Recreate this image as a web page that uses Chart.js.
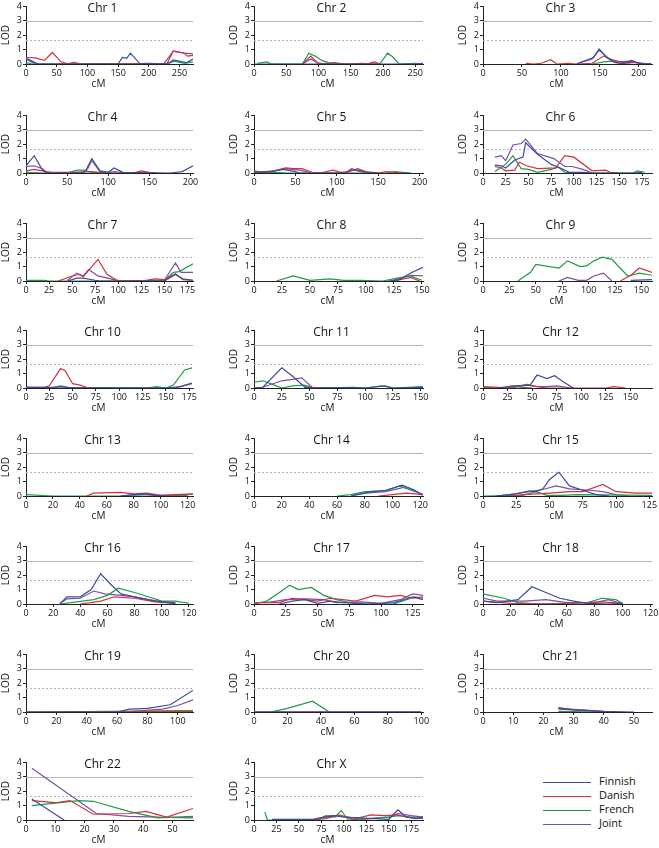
<!DOCTYPE html>
<html>
<head>
<meta charset="utf-8">
<script src="https://cdn.jsdelivr.net/npm/chart.js@4.4.0/dist/chart.umd.min.js"></script>
<style>
html, body { margin: 0; padding: 0; overflow: hidden; }
body { width: 659px; height: 848px; position: relative; background: #fff; font-family: "Open Sans", sans-serif; }
canvas { position: absolute; }
.leg { position: absolute; left: 543px; font-size: 11px; color: #111; height: 14px; line-height: 14px; }
.leg span { display: inline-block; width: 48px; border-top: 1.5px solid; vertical-align: middle; margin-right: 8px; }
</style>
</head>
<body>
<div class="leg" style="top:774px"><span style="border-color:#3b4ba3"></span>Finnish</div>
<div class="leg" style="top:788px"><span style="border-color:#d2323c"></span>Danish</div>
<div class="leg" style="top:802px"><span style="border-color:#1f9a4a"></span>French</div>
<div class="leg" style="top:816px"><span style="border-color:#7a4ea3"></span>Joint</div>
<script>
// chromosome names, axis end and tick step
const chromosomes = ['Chr 1','Chr 2','Chr 3','Chr 4','Chr 5','Chr 6','Chr 7','Chr 8','Chr 9','Chr 10','Chr 11','Chr 12',
  'Chr 13','Chr 14','Chr 15','Chr 16','Chr 17','Chr 18','Chr 19','Chr 20','Chr 21','Chr 22','Chr X'];
const xMax = [272,262,217,203,204,186,181,151,160,179,152,172,124,122,127,123,133,121,110,101,56,57,188];
const xStep = [50,50,50,50,50,25,25,25,25,25,25,25,20,20,25,20,25,20,20,20,10,10,25];
const yTicks = [0,1,2,3,4];
const solidLine = 3;
const dashLine = 1.7;
const seriesNames = ['Finnish','Danish','French','Joint'];
const seriesColors = ['#3b4ba3','#d2323c','#1f9a4a','#7a4ea3'];

// [cM, LOD] points per chromosome
const finnish = [
  [[0,0.4],[10,0.2],[20,0],[150,0],[157,0.45],[164,0.4],[170,0.75],[185,0.05],[230,0],[240,0.28],[255,0.15],[262,0.1],[272,0.35]],
  [[0,0],[250,0],[262,0.05]],
  [[120,0],[127,0.15],[135,0.3],[142,0.45],[149,1.05],[160,0.4],[170,0.1],[180,0.05],[191,0.25],[200,0.05],[216,0]],
  [[0,0.5],[10,1.2],[20,0.2],[25,0],[65,0],[72,0.1],[80,1.0],[90,0.15],[100,0.05],[107,0.35],[118,0.05],[175,0],[190,0.1],[203,0.5]],
  [[0,0.05],[20,0.1],[35,0.25],[50,0.1],[55,0],[110,0],[118,0.3],[125,0.15],[135,0.05],[150,0]],
  [[13,0.55],[20,0.5],[25,0.35],[35,0.9],[44,1.1],[47,2.1],[60,1.3],[75,0.6],[85,0.35],[95,0.05],[110,0.05],[120,0],[165,0],[175,0.05]],
  [[45,0],[55,0.2],[62,0.2],[75,0.05],[80,0],[150,0],[162,0.45],[170,0.15],[181,0.05]],
  [[120,0],[130,0.1],[140,0.55],[151,0.95]],
  [[140,0.05],[160,0.1]],
  [[0,0.05],[30,0.05],[37,0.1],[50,0],[150,0],[165,0.1],[178,0.35]],
  [[0,0],[8,0.05],[25,1.4],[35,0.8],[45,0.1],[50,0],[90,0.05],[100,0],[118,0.15],[125,0],[152,0.05]],
  [[15,0],[30,0.15],[40,0.15],[48,0.2],[55,0.9],[65,0.65],[73,0.85],[80,0.5],[92,0]],
  [[70,0],[80,0.1],[88,0.15],[95,0.05],[105,0]],
  [[70,0],[75,0.1],[85,0.3],[95,0.4],[107,0.75],[115,0.45],[122,0.05]],
  [[10,0],[25,0.15],[35,0.35],[40,0.3],[45,0.5],[50,1.15],[57,1.65],[65,0.7],[75,0.4],[85,0.1],[95,0]],
  [[25,0],[30,0.5],[40,0.5],[48,1.0],[55,2.1],[63,1.3],[70,0.7],[80,0.5],[90,0.3],[100,0.15],[110,0.05]],
  [[20,0],[30,0.2],[40,0.3],[50,0.05],[60,0.2],[70,0.1],[90,0],[110,0.1],[125,0.5],[133,0.3]],
  [[0,0.2],[10,0.1],[25,0.3],[35,1.2],[45,0.8],[55,0.4],[65,0.2],[75,0.05],[90,0],[100,0.05]],
  [[0,0],[60,0],[68,0.2],[80,0.25],[95,0.5],[110,1.5]],
  [[0,0],[100,0]],
  [[25,0.3],[30,0.15],[40,0.05],[50,0]],
  [[2,1.45],[13,0]],
  [[20,0.05],[65,0.05],[90,0.3],[100,0.2],[150,0.05],[160,0.7],[170,0.2],[180,0.1],[188,0.2]]
];
const danish = [
  [[0,0.45],[15,0.42],[30,0.25],[43,0.8],[57,0.15],[68,0.02],[78,0.12],[90,0],[180,0],[195,0.05],[215,0.03],[230,0.05],[240,0.9],[258,0.75],[263,0.55],[272,0.6]],
  [[75,0],[88,0.55],[100,0],[118,0.05],[125,0.1],[135,0],[178,0.05],[187,0.15],[195,0]],
  [[55,0.05],[65,0],[75,0.05],[87,0.3],[95,0],[110,0.05],[120,0],[140,0.05],[155,0.55],[165,0.3],[180,0.1],[200,0.1],[210,0],[216,0.05]],
  [[0,0.15],[10,0.25],[25,0.1],[35,0],[60,0.05],[80,0.1],[95,0],[130,0],[140,0.15],[150,0.05],[160,0]],
  [[0,0.05],[25,0.15],[38,0.35],[48,0.3],[58,0.3],[70,0.05],[80,0],[95,0.2],[105,0.05],[115,0.1],[125,0.3],[135,0.1],[150,0],[160,0.1],[170,0.05],[180,0]],
  [[13,0.45],[20,0.35],[25,0.15],[35,0.2],[40,0.75],[48,0.5],[60,0.3],[80,0.35],[90,1.2],[100,1.1],[120,0.15],[135,0.2],[140,0.05],[150,0]],
  [[35,0],[50,0.35],[58,0.45],[62,0.3],[78,1.5],[88,0.45],[100,0],[130,0.05],[140,0.15],[150,0.1],[162,0.5],[170,0.1],[181,0.05]],
  [[125,0],[140,0.25],[148,0]],
  [[130,0],[140,0.4],[148,0.9],[160,0.6]],
  [[0,0.05],[20,0.05],[25,0.15],[37,1.35],[42,1.2],[50,0.3],[58,0.2],[65,0.05],[75,0]],
  [[45,0.05],[52,0.05],[62,0]],
  [[0,0.1],[15,0.05],[25,0],[45,0.25],[55,0.1],[65,0],[125,0],[133,0.1],[145,0]],
  [[45,0],[50,0.2],[70,0.25],[80,0.15],[90,0.2],[100,0.05],[110,0.1],[124,0.15]],
  [[90,0],[100,0.1],[110,0.2],[122,0.1]],
  [[20,0],[30,0.1],[50,0.2],[65,0.3],[75,0.3],[90,0.8],[100,0.3],[115,0.2],[127,0.2]],
  [[40,0],[55,0.2],[65,0.5],[80,0.4],[95,0.15],[110,0.05]],
  [[0,0.1],[20,0.1],[30,0.4],[40,0.3],[50,0.2],[60,0.4],[70,0.3],[80,0.2],[95,0.6],[105,0.5],[115,0.6],[125,0.4],[133,0.5]],
  [[0,0.2],[20,0.05],[50,0],[85,0.15],[100,0.05]],
  [[0,0],[110,0.05]],
  [[0,0],[100,0]],
  [[25,0.2],[35,0.1],[40,0]],
  [[2,1.35],[10,1.2],[15,1.35],[23,0.4],[35,0.45],[41,0.6],[48,0.2],[57,0.8]],
  [[60,0],[80,0.1],[95,0.35],[110,0.05],[130,0.35],[145,0.3],[160,0.35],[170,0.2],[188,0.1]]
];
const french = [
  [[0,0.1],[10,0],[230,0],[242,0.2],[258,0.05],[272,0.15]],
  [[5,0.05],[20,0.15],[27,0],[75,0],[85,0.75],[95,0.55],[105,0.25],[115,0.1],[130,0.05],[150,0],[165,0.05],[195,0],[207,0.75],[215,0.5],[225,0],[250,0.05],[262,0]],
  [[140,0],[155,0.15],[165,0.2],[175,0.05],[190,0]],
  [[0,0.05],[20,0],[50,0],[62,0.2],[70,0.2],[80,0.05],[95,0.05],[105,0]],
  [[0,0.15],[10,0.05],[25,0.05],[40,0],[160,0],[170,0.1],[180,0.05],[190,0]],
  [[13,0.1],[25,0.6],[33,1.2],[42,0.3],[50,0.25],[60,0.05],[75,0.25],[83,0.4],[90,0.05],[100,0],[165,0],[170,0.15],[178,0.05]],
  [[0,0.05],[20,0.05],[25,0],[95,0],[100,0.05],[105,0],[150,0.05],[160,0.6],[166,0.65],[181,1.2]],
  [[20,0],[35,0.35],[50,0.05],[68,0.15],[80,0.05],[95,0.05],[115,0],[128,0.2],[140,0.35],[150,0.05]],
  [[33,0],[45,0.6],[50,1.15],[72,0.9],[80,1.4],[92,1.0],[98,1.05],[105,1.4],[113,1.65],[122,1.5],[137,0.35],[148,0.55],[160,0.4]],
  [[0,0.05],[20,0],[130,0],[140,0.1],[150,0],[158,0.2],[170,1.25],[178,1.4]],
  [[0,0.4],[8,0.5],[15,0.3],[25,0],[35,0.15],[45,0.2],[52,0.05],[100,0],[115,0.15],[125,0],[152,0.1]],
  [[0,0.05],[30,0],[35,0.1],[40,0.05],[50,0]],
  [[0,0.1],[20,0],[110,0],[124,0.15]],
  [[60,0],[70,0.1],[80,0.3],[95,0.35],[105,0.7],[115,0.4],[122,0.1]],
  [[0,0],[30,0.05],[40,0.3],[48,0.05],[60,0.05],[70,0.1],[127,0.05]],
  [[25,0],[50,0.3],[60,0.6],[68,1.1],[80,0.8],[90,0.5],[100,0.2],[110,0.2],[120,0.05]],
  [[0,0],[10,0.2],[20,0.8],[28,1.3],[35,1.0],[45,1.15],[55,0.6],[65,0.3],[75,0.1],[85,0],[110,0],[120,0.3],[127,0.5],[133,0.4]],
  [[0,0.7],[5,0.6],[15,0.4],[25,0.1],[40,0],[75,0.1],[85,0.4],[95,0.3],[100,0.05]],
  [[0,0],[110,0.1]],
  [[10,0],[20,0.25],[35,0.75],[45,0]],
  [[25,0.05],[40,0]],
  [[2,1.0],[18,1.35],[23,1.3],[35,0.6],[45,0.15],[57,0.25]],
  [[12,0.55],[15,0],[70,0],[80,0.3],[90,0.2],[97,0.65],[105,0],[150,0.2],[160,0.3],[175,0.2],[188,0.2]]
];
const joint = [
  [[0,0.35],[15,0],[225,0.05],[240,0.9],[258,0.75],[272,0.7]],
  [[75,0],[88,0.35],[98,0.1],[110,0]],
  [[122,0.05],[140,0.35],[149,0.95],[160,0.45],[170,0.15],[190,0.2],[200,0.05],[216,0]],
  [[0,0.45],[10,0.5],[20,0.3],[25,0.05],[70,0.05],[75,0.3],[80,0.85],[90,0.1],[100,0.05],[108,0.1],[120,0]],
  [[0,0.1],[20,0.1],[38,0.3],[55,0.2],[70,0],[110,0],[118,0.2],[125,0.2],[140,0]],
  [[13,1.1],[20,1.2],[25,0.85],[33,1.95],[42,2.05],[47,2.35],[60,1.35],[78,1.0],[90,0.45],[98,0.45],[110,0.25],[120,0]],
  [[45,0.05],[55,0.55],[62,0.35],[68,0.8],[78,0.35],[92,0.15],[100,0],[150,0.05],[162,1.25],[168,0.6],[181,0.6]],
  [[125,0.05],[140,0.4],[151,0.35]],
  [[72,0],[80,0.25],[90,0.05],[98,0.05],[105,0.35],[114,0.55],[122,0]],
  [[30,0.05],[37,0.15],[45,0.05],[160,0],[178,0.3]],
  [[0,0],[8,0.05],[25,0.5],[35,0.6],[43,0.7],[52,0.05],[60,0]],
  [[25,0.05],[35,0.15],[45,0.2],[55,0.1],[65,0.1],[75,0.15],[90,0]],
  [[75,0.05],[85,0.1],[90,0.15],[100,0.05],[120,0.05]],
  [[70,0.05],[80,0.2],[95,0.3],[108,0.6],[122,0.1]],
  [[10,0],[20,0.1],[35,0.3],[45,0.45],[55,0.7],[65,0.5],[80,0.4],[90,0.3],[100,0.1],[110,0]],
  [[25,0.05],[30,0.35],[40,0.4],[50,0.9],[58,0.7],[70,0.6],[80,0.5],[95,0.2],[110,0.1]],
  [[10,0.1],[25,0.3],[40,0.35],[55,0.3],[65,0.1],[85,0.15],[100,0.05],[115,0.3],[125,0.7],[133,0.6]],
  [[0,0.4],[10,0.2],[30,0.2],[45,0.3],[60,0.1],[80,0.1],[90,0.3],[100,0]],
  [[70,0.05],[90,0.2],[100,0.45],[110,0.85]],
  [[0,0],[100,0]],
  [[25,0.25],[40,0.05]],
  [[2,3.6],[24,0.45],[35,0.25],[45,0.2],[57,0.15]],
  [[70,0.1],[85,0.3],[100,0.25],[120,0.05],[150,0.2],[160,0.45],[175,0.3],[188,0.2]]
];

// grid of panels
const colAxisX = [26, 254, 483];
const colPlotW = [167, 169, 169];
const rowTopY = [6, 115, 223, 330, 438, 546, 654, 762];
const plotH = 58;

// reference lines, chromosome title and cM label
const refLines = {
  id: 'refLines',
  beforeDatasetsDraw(chart) {
    const {ctx, chartArea, scales} = chart;
    ctx.save();
    ctx.strokeStyle = '#b5b5b5';
    ctx.lineWidth = 1;
    let y = Math.round(scales.y.getPixelForValue(solidLine)) + 0.5;
    ctx.beginPath(); ctx.moveTo(chartArea.left, y); ctx.lineTo(chartArea.right, y); ctx.stroke();
    y = Math.round(scales.y.getPixelForValue(dashLine)) + 0.5;
    ctx.setLineDash([2, 2]);
    ctx.beginPath(); ctx.moveTo(chartArea.left, y); ctx.lineTo(chartArea.right, y); ctx.stroke();
    ctx.restore();
  },
  afterDraw(chart) {
    const {ctx, chartArea} = chart;
    const mid = (chartArea.left + chartArea.right) / 2;
    ctx.save();
    ctx.fillStyle = '#111';
    ctx.textAlign = 'center';
    ctx.textBaseline = 'middle';
    ctx.font = '12px "Open Sans", sans-serif';
    ctx.fillText(chart.options.plugins.refLines.title, mid - 7, chartArea.top + 2);
    ctx.font = '10px "Open Sans", sans-serif';
    ctx.fillText('cM', mid - 11, chartArea.bottom + 20);
    ctx.restore();
  }
};

chromosomes.forEach((name, i) => {
  const col = i % 3, row = Math.floor(i / 3);
  const canvas = document.createElement('canvas');
  canvas.width = 26 + colPlotW[col] + 12;
  canvas.height = 6 + plotH + 26;
  canvas.style.left = (colAxisX[col] - 26) + 'px';
  canvas.style.top = (rowTopY[row] - 6) + 'px';
  document.body.appendChild(canvas);

  const ticks = [];
  for (let v = 0; v <= xMax[i]; v += xStep[i]) ticks.push(v);

  const allSeries = [finnish[i], danish[i], french[i], joint[i]];
  new Chart(canvas, {
    type: 'line',
    data: {
      datasets: allSeries.map((pts, k) => ({
        label: seriesNames[k],
        data: pts.map(p => ({x: p[0], y: p[1]})),
        borderColor: seriesColors[k],
        borderWidth: 1.2,
        pointRadius: 0,
        tension: 0,
        fill: false
      }))
    },
    options: {
      responsive: false,
      animation: false,
      layout: { padding: { top: 6, right: 12, left: 0, bottom: 0 } },
      plugins: { legend: { display: false }, tooltip: { enabled: false }, refLines: { title: name } },
      scales: {
        x: {
          type: 'linear', min: 0, max: xMax[i],
          afterBuildTicks: ax => { ax.ticks = ticks.map(v => ({value: v})); },
          afterFit: ax => { ax.height = 26; },
          border: { color: '#222', width: 1 },
          grid: { drawOnChartArea: false, tickLength: 3, color: '#222' },
          ticks: { padding: 1, autoSkip: false, maxRotation: 0, color: '#111', font: { size: 9, family: '"Open Sans", sans-serif' } },
          title: { display: false }
        },
        y: {
          min: 0, max: 4,
          afterBuildTicks: ax => { ax.ticks = yTicks.map(v => ({value: v})); },
          afterFit: ax => { ax.width = 26; },
          border: { color: '#222', width: 1 },
          grid: { drawOnChartArea: false, tickLength: 3, color: '#222' },
          ticks: { padding: 1, color: '#111', font: { size: 9, family: '"Open Sans", sans-serif' } },
          title: { display: true, text: 'LOD', padding: 0, color: '#111', font: { size: 10, family: '"Open Sans", sans-serif' } }
        }
      }
    },
    plugins: [refLines]
  });
});
</script>
</body>
</html>
